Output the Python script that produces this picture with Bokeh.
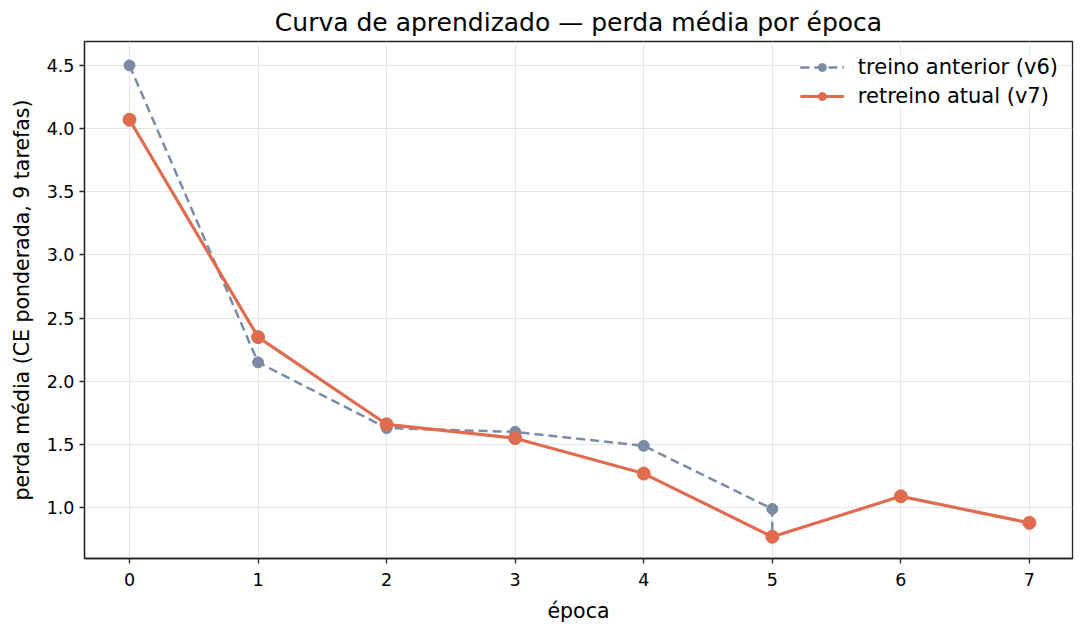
from bokeh.plotting import figure
from bokeh.models import ColumnDataSource, Legend, LegendItem, FixedTicker, Range1d, NumeralTickFormatter
from bokeh.embed import file_html
from bokeh.resources import INLINE

# dados
epocasV6 = [0, 1, 2, 3, 4, 5, 5]
perdaV6 = [4.50, 2.15, 1.63, 1.60, 1.49, 0.99, 0.77]
epocasV7 = [0, 1, 2, 3, 4, 5, 6, 7]
perdaV7 = [4.07, 2.35, 1.66, 1.55, 1.27, 0.77, 1.09, 0.88]
yTicks = [1.0, 1.5, 2.0, 2.5, 3.0, 3.5, 4.0, 4.5]
xTicks = [0, 1, 2, 3, 4, 5, 6, 7]

corV6 = "#7b8ba5"
corV7 = "#e06c4f"
fonte = "DejaVu Sans"

p = figure(width=1080, height=630, output_backend="svg", toolbar_location=None,
           x_range=Range1d(-0.35, 7.335), y_range=Range1d(0.598, 4.689),
           min_border_left=84, min_border_top=39, min_border_bottom=72, min_border_right=8)

p.title.text = "Curva de aprendizado — perda média por época"
p.title.align = "center"
p.title.text_font = fonte
p.title.text_font_size = "25px"
p.title.text_font_style = "normal"
p.title.text_color = "#000000"

p.outline_line_color = "#222222"
p.outline_line_width = 1.3
p.outline_line_alpha = 1.0

for eixo in (p.xaxis, p.yaxis):
    eixo.axis_line_color = "#222222"
    eixo.axis_line_width = 1.3
    eixo.major_tick_out = 5
    eixo.major_tick_in = 0
    eixo.major_tick_line_color = "#222222"
    eixo.major_tick_line_width = 1.3
    eixo.minor_tick_out = 0
    eixo.minor_tick_in = 0
    eixo.major_label_text_font = fonte
    eixo.major_label_text_font_size = "17.5px"
    eixo.major_label_text_color = "#000000"
    eixo.axis_label_text_font = fonte
    eixo.axis_label_text_font_size = "20.5px"
    eixo.axis_label_text_font_style = "normal"
    eixo.axis_label_text_color = "#000000"

p.xaxis.ticker = FixedTicker(ticks=xTicks)
p.yaxis.ticker = FixedTicker(ticks=yTicks)
p.yaxis.formatter = NumeralTickFormatter(format="0.0")
p.xaxis.axis_label = "época"
p.yaxis.axis_label = "perda média (CE ponderada, 9 tarefas)"
p.xaxis.major_label_standoff = 9
p.yaxis.major_label_standoff = 5
p.xaxis.axis_label_standoff = 10
p.yaxis.axis_label_standoff = 10

p.grid.grid_line_color = "#e6e6e6"
p.grid.grid_line_width = 1

fonteV6 = ColumnDataSource(dict(x=epocasV6, y=perdaV6))
fonteV7 = ColumnDataSource(dict(x=epocasV7, y=perdaV7))

l6 = p.line("x", "y", source=fonteV6, line_color=corV6, line_width=2.5, line_dash="9 5")
m6 = p.scatter("x", "y", source=fonteV6, size=11, fill_color=corV6, line_color=corV6)
l7 = p.line("x", "y", source=fonteV7, line_color=corV7, line_width=3.2)
m7 = p.scatter("x", "y", source=fonteV7, size=13, fill_color=corV7, line_color=corV7)

legenda = Legend(items=[
    LegendItem(label="treino anterior (v6)", renderers=[l6, m6]),
    LegendItem(label="retreino atual (v7)", renderers=[l7, m7]),
], location="top_right")
legenda.border_line_color = None
legenda.background_fill_alpha = 0.8
legenda.label_text_font = fonte
legenda.label_text_font_size = "21px"
legenda.label_text_color = "#000000"
legenda.glyph_width = 44
legenda.label_standoff = 14
legenda.spacing = 5
legenda.padding = 8
legenda.margin = 14
p.add_layout(legenda)

open("out.html", "w").write(file_html(p, INLINE))
